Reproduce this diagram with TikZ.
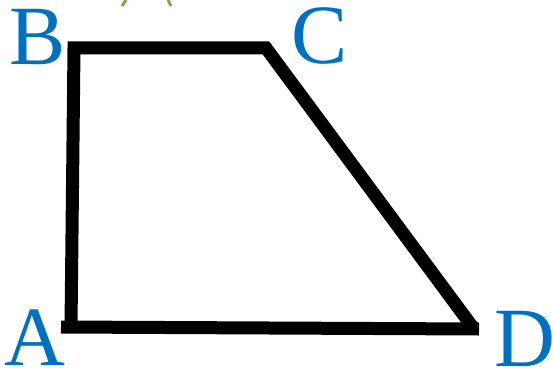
\documentclass[tikz,border=0pt]{standalone}
\usepackage{tikz}
\usepackage{xcolor}
\usepackage{fontspec}
\setmainfont{Liberation Serif}
\usetikzlibrary{positioning, calc}

\definecolor{labelblue}{HTML}{0070C0}
\definecolor{markgreen}{HTML}{70AD47}

\begin{document}
\begin{tikzpicture}[
    x=0.02cm, y=-0.02cm,
    side/.style={
        draw=black,
        line width=7.4pt,
        line join=miter
    },
    vertexlabel/.style={
        text=labelblue,
        inner sep=0pt,
        font=\fontsize{48}{48}\selectfont
    },
    greenstroke/.style={
        draw=markgreen,
        line width=1.6pt
    }
]
\useasboundingbox (0,0) rectangle (553,371);

% Sommets
\coordinate (A) at (71,327);
\coordinate (B) at (74,48);
\coordinate (C) at (266,48);
\coordinate (D) at (474,329);
\coordinate (Aext) at (61,327);
\coordinate (Dext) at (479,329);

% Lettres
\node[vertexlabel] (labA) at (35,338) {A};
\node[vertexlabel] (labB) at (38,37) {B};
\node[vertexlabel] (labC) at (320,36) {C};
\node[vertexlabel] (labD) at (525,339) {D};

% Trapeze
\draw[side] (A) -- (B) -- (C) -- (D);
\draw[side, line cap=butt] (Aext) -- (Dext);

% Traits verts
\coordinate (g1) at (122,6);
\coordinate (g2) at (126,0);
\coordinate (g3) at (171,6);
\coordinate (g4) at (168,0);
\draw[greenstroke] (g1) -- (g2);
\draw[greenstroke] (g3) -- (g4);

\end{tikzpicture}
\end{document}
